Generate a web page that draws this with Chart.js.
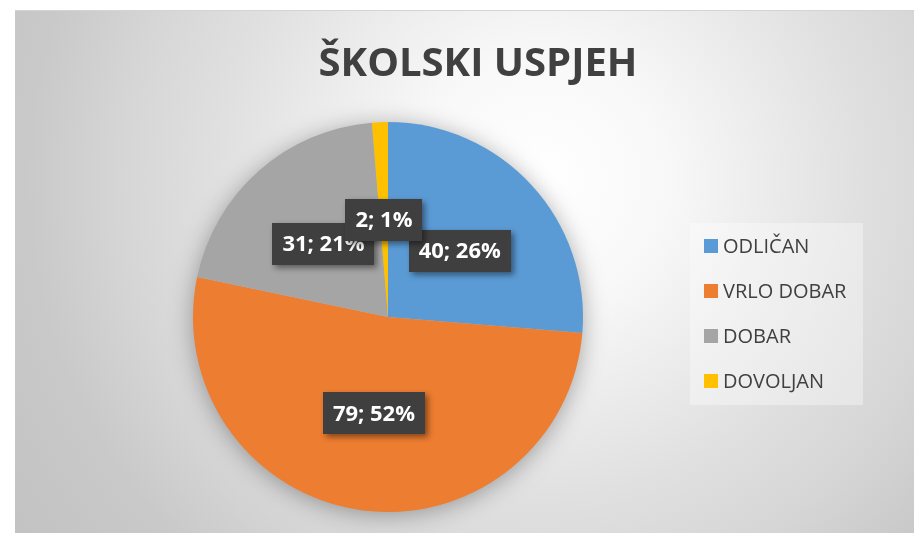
<!DOCTYPE html>
<html>
<head>
<meta charset="utf-8">
<script src="https://cdn.jsdelivr.net/npm/chart.js@4"></script>
<style>
  html, body { margin: 0; padding: 0; background: #ffffff; }
  #wrap { width: 914px; height: 533px; position: relative; }
</style>
</head>
<body>
<div id="wrap"><canvas id="c" width="914" height="533"></canvas></div>
<script>
const chartTitle = 'ŠKOLSKI USPJEH';
const categories = ['ODLIČAN', 'VRLO DOBAR', 'DOBAR', 'DOVOLJAN'];
const counts = [40, 79, 31, 2];
const percentLabels = [26, 52, 21, 1];
const sliceColors = ['#5B9BD5', '#ED7D31', '#A5A5A5', '#FFC000'];

const bgPlugin = {
  id: 'bg',
  afterLayout(chart) {
    // title spans the whole chart frame horizontally (like the original)
    if (chart.titleBlock) {
      chart.titleBlock.left = 42;
      chart.titleBlock.right = 914;
      chart.titleBlock.width = 872;
    }
  },
  beforeDraw(chart) {
    const ctx = chart.ctx;
    ctx.save();
    ctx.fillStyle = '#ffffff';
    ctx.fillRect(0, 0, chart.width, chart.height);
    const g = ctx.createRadialGradient(540, 180, 0, 540, 180, 640);
    g.addColorStop(0, '#ffffff');
    g.addColorStop(0.2, '#f8f8f8');
    g.addColorStop(0.5, '#e0e0e0');
    g.addColorStop(0.65, '#d6d6d6');
    g.addColorStop(0.8, '#c9c9c9');
    g.addColorStop(1, '#c2c2c2');
    ctx.fillStyle = g;
    ctx.fillRect(15, 10, chart.width - 15, chart.height - 10);
    ctx.strokeStyle = '#d4d4d4';
    ctx.lineWidth = 1;
    ctx.beginPath();
    ctx.moveTo(15, 10.5);
    ctx.lineTo(chart.width, 10.5);
    ctx.stroke();
    ctx.restore();
  },
  beforeDatasetsDraw(chart) {
    const meta = chart.getDatasetMeta(0);
    const a = meta.data[0];
    if (!a) return;
    const ctx = chart.ctx;
    ctx.save();
    ctx.shadowColor = 'rgba(0,0,0,0.35)';
    ctx.shadowBlur = 24;
    ctx.shadowOffsetX = 0;
    ctx.shadowOffsetY = 3;
    ctx.fillStyle = '#bbbbbb';
    ctx.beginPath();
    ctx.arc(a.x, a.y, a.outerRadius - 1, 0, Math.PI * 2);
    ctx.fill();
    ctx.restore();
  }
};

const labelPlugin = {
  id: 'boxLabels',
  afterDatasetsDraw(chart) {
    const ctx = chart.ctx;
    const meta = chart.getDatasetMeta(0);
    const ds = chart.data.datasets[0];
    ctx.save();
    ctx.font = 'bold 22px "Open Sans"';
    ctx.textAlign = 'center';
    ctx.textBaseline = 'middle';
    meta.data.forEach((arc, i) => {
      const p = arc.getCenterPoint();
      const txt = ds.data[i] + '; ' + percentLabels[i] + '%';
      const tw = ctx.measureText(txt).width;
      const w = tw + 20, h = 42;
      ctx.save();
      ctx.shadowColor = 'rgba(0,0,0,0.45)';
      ctx.shadowBlur = 6;
      ctx.shadowOffsetX = 3;
      ctx.shadowOffsetY = 3;
      ctx.fillStyle = '#3f3f3f';
      ctx.fillRect(Math.round(p.x - w / 2), Math.round(p.y - h / 2), Math.round(w), h);
      ctx.restore();
      ctx.fillStyle = '#ffffff';
      ctx.fillText(txt, p.x, p.y + 1);
    });
    ctx.restore();
  }
};

const legendPlugin = {
  id: 'boxLegend',
  afterDraw(chart) {
    const ctx = chart.ctx;
    const ds = chart.data.datasets[0];
    const labels = chart.data.labels;
    ctx.save();
    ctx.fillStyle = 'rgba(255,255,255,0.35)';
    ctx.fillRect(690, 223, 173, 182);
    ctx.font = '20px "Open Sans"';
    ctx.textAlign = 'left';
    ctx.textBaseline = 'middle';
    labels.forEach((lab, i) => {
      const cy = 246 + i * 45;
      ctx.fillStyle = ds.backgroundColor[i];
      ctx.fillRect(704, cy - 7, 14, 14);
      ctx.fillStyle = '#404040';
      ctx.fillText(lab, 723, cy + 1);
    });
    ctx.restore();
  }
};

new Chart(document.getElementById('c'), {
  type: 'pie',
  data: {
    labels: categories,
    datasets: [{
      data: counts,
      backgroundColor: sliceColors,
      borderWidth: 0
    }]
  },
  options: {
    responsive: false,
    animation: false,
    layout: { padding: { top: 10, bottom: 21, left: 88, right: 226 } },
    plugins: {
      legend: { display: false },
      tooltip: { enabled: false },
      title: {
        display: true,
        text: chartTitle,
        color: '#404040',
        font: { family: '"Open Sans"', size: 40, weight: 'bold' },
        padding: { top: 31, bottom: 33 }
      }
    }
  },
  plugins: [bgPlugin, labelPlugin, legendPlugin]
});
</script>
</body>
</html>
